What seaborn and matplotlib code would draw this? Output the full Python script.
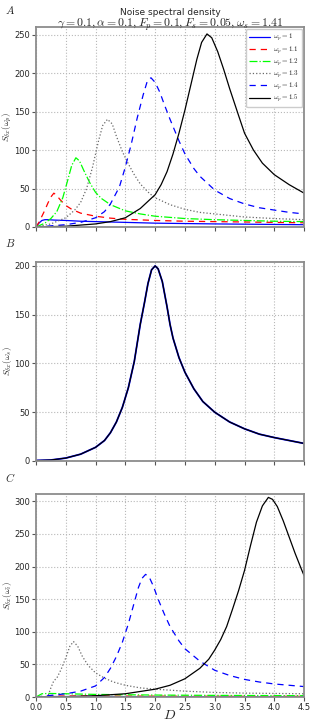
import numpy as np
import pandas as pd
import seaborn as sns
from matplotlib import pyplot as plt

sns.set_style("whitegrid")
plt.rcParams["mathtext.fontset"] = "cm"
plt.rcParams["font.family"] = ["DejaVu Sans"]

omega_p = ["1", "1.1", "1.2", "1.3", "1.4", "1.5"]

# panel A: S(omega_p) vs D
a_d_10 = [0, 0.05, 0.1, 0.15, 0.2, 0.3, 0.5, 0.75, 1.0, 1.5, 2.0, 3.0, 4.5]
a_s_10 = [0, 5, 8.5, 9.5, 9.5, 9, 8.5, 7.5, 7, 6, 5, 4, 3]
a_d_11 = [0, 0.05, 0.1, 0.15, 0.2, 0.25, 0.3, 0.35, 0.4, 0.5, 0.6, 0.75, 1.0, 1.25, 1.5, 2.0, 2.5, 3.0, 3.5, 4.0, 4.5]
a_s_11 = [0, 6, 14, 22, 31, 39, 44, 41, 36, 28, 23, 18, 14, 11.5, 10, 8.5, 7.5, 7, 6.5, 6, 5.5]
a_d_12 = [0, 0.15, 0.25, 0.35, 0.45, 0.53, 0.6, 0.67, 0.73, 0.8, 0.9, 1.0, 1.1, 1.25, 1.5, 1.75, 2.0, 2.5, 3.0, 3.5, 4.0, 4.5]
a_s_12 = [0, 5, 11, 20, 38, 60, 80, 90, 86, 74, 58, 45, 37, 29, 21, 17, 14, 11, 9.5, 8.5, 7.5, 7]
a_d_13 = [0, 0.25, 0.5, 0.65, 0.75, 0.85, 0.95, 1.05, 1.12, 1.2, 1.28, 1.35, 1.45, 1.55, 1.65, 1.75, 1.9, 2.0, 2.25, 2.5, 2.75, 3.0, 3.5, 4.0, 4.5]
a_s_13 = [0, 4, 12, 22, 32, 50, 78, 112, 132, 140, 134, 118, 98, 82, 68, 56, 44, 38, 29, 23, 19, 17, 13, 11, 9.5]
a_d_14 = [0, 0.5, 0.75, 1.0, 1.15, 1.25, 1.4, 1.5, 1.6, 1.7, 1.8, 1.87, 1.93, 2.0, 2.08, 2.15, 2.25, 2.4, 2.5, 2.65, 2.75, 3.0, 3.25, 3.5, 3.75, 4.0, 4.25, 4.5]
a_s_14 = [0, 3, 6, 12, 20, 30, 52, 78, 108, 142, 172, 190, 194, 188, 175, 160, 140, 112, 95, 76, 66, 48, 37, 30, 25, 22, 19, 17]
a_d_15 = [0, 0.5, 1.0, 1.25, 1.5, 1.75, 2.0, 2.1, 2.2, 2.3, 2.4, 2.5, 2.6, 2.7, 2.78, 2.87, 2.95, 3.05, 3.15, 3.25, 3.4, 3.5, 3.65, 3.8, 4.0, 4.25, 4.5]
a_s_15 = [0, 1, 4, 7, 12, 24, 42, 55, 72, 95, 122, 152, 185, 218, 240, 251, 246, 228, 205, 180, 145, 122, 100, 83, 68, 55, 44]

# panel B: S(omega_s) vs D
b_d = [0, 0.25, 0.5, 0.75, 1.0, 1.15, 1.25, 1.35, 1.45, 1.55, 1.65, 1.75, 1.82, 1.88, 1.94, 2.0,
       2.05, 2.12, 2.2, 2.25, 2.3, 2.4, 2.5, 2.65, 2.8, 3.0, 3.25, 3.5, 3.75, 4.0, 4.25, 4.5]
b_s = [0.5, 1, 3, 7, 14, 21, 29, 40, 55, 75, 102, 140, 162, 182, 196, 200,
       197, 184, 158, 140, 126, 106, 91, 74, 61, 50, 40, 33, 27.5, 24, 21, 18]

# panel C: S(omega_i) vs D
c_d_10 = [0, 0.2, 1.0, 2.0, 3.0, 4.5]
c_s_10 = [0, 0.8, 0.7, 0.6, 0.5, 0.5]
c_d_11 = [0, 0.2, 1.0, 2.0, 3.0, 4.5]
c_s_11 = [0, 1.5, 1.5, 1.3, 1.1, 1]
c_d_12 = [0, 0.1, 0.2, 0.5, 1.0, 2.0, 3.0, 4.5]
c_s_12 = [0, 5, 5.5, 5, 4, 3, 2.5, 2]
c_d_13 = [0, 0.2, 0.25, 0.3, 0.35, 0.42, 0.5, 0.57, 0.63, 0.7, 0.78, 0.88, 1.0, 1.15, 1.3, 1.5, 1.75, 2.0, 2.5, 3.0, 3.5, 4.5]
c_s_13 = [0, 1, 14, 25, 29, 42, 60, 78, 85, 78, 62, 48, 37, 29, 23, 18, 14, 12, 9, 7, 6, 5]
c_d_14 = [0, 0.5, 0.75, 1.0, 1.15, 1.25, 1.35, 1.45, 1.55, 1.65, 1.72, 1.78, 1.84, 1.9, 1.97, 2.05,
          2.15, 2.25, 2.4, 2.5, 2.75, 3.0, 3.25, 3.5, 3.75, 4.0, 4.25, 4.5]
c_s_14 = [0, 5, 9, 17, 30, 44, 62, 84, 112, 145, 168, 182, 188, 184, 170, 150,
          128, 108, 86, 74, 55, 41, 33, 27, 23, 20, 18, 16]
c_d_15 = [0, 0.5, 1.0, 1.5, 2.0, 2.25, 2.5, 2.75, 2.9, 3.0, 3.1, 3.2, 3.3, 3.4, 3.5, 3.6, 3.7, 3.8,
          3.9, 3.97, 4.05, 4.15, 4.25, 4.35, 4.45, 4.5]
c_s_15 = [0, 0.5, 2, 5, 12, 18, 28, 44, 58, 72, 88, 108, 135, 163, 194, 232, 268, 293,
          306, 303, 292, 270, 245, 220, 197, 186]

colors = ["blue", "red", "lime", "dimgray", "blue", "black"]
styles = ["-", (0, (5, 4)), "-.", ":", (0, (5, 4)), "-"]

fig = plt.figure(figsize=(3.1, 7.22), dpi=100)
ax_a = fig.add_axes([0.116, 0.6856, 0.865, 0.277])
ax_b = fig.add_axes([0.116, 0.3615, 0.865, 0.2756])
ax_c = fig.add_axes([0.116, 0.0346, 0.865, 0.281])

panel_a = [(a_d_10, a_s_10), (a_d_11, a_s_11), (a_d_12, a_s_12),
           (a_d_13, a_s_13), (a_d_14, a_s_14), (a_d_15, a_s_15)]
panel_c = [(c_d_10, c_s_10), (c_d_11, c_s_11), (c_d_12, c_s_12),
           (c_d_13, c_s_13), (c_d_14, c_s_14), (c_d_15, c_s_15)]

for (d, s), w, c, ls in zip(panel_a, omega_p, colors, styles):
    sns.lineplot(x=d, y=s, ax=ax_a, color=c, linestyle=ls, linewidth=0.9,
                 label="$\\omega_p = " + w + "$", sort=False)
for (d, s), c, ls in zip(panel_c, colors, styles):
    sns.lineplot(x=d, y=s, ax=ax_c, color=c, linestyle=ls, linewidth=0.9, sort=False)
sns.lineplot(x=b_d, y=b_s, ax=ax_b, color="blue", linewidth=1.3, sort=False)
sns.lineplot(x=b_d, y=b_s, ax=ax_b, color="black", linewidth=0.9, sort=False)

ax_a.legend(loc="upper right", fontsize=5, handlelength=3.0, labelspacing=0.1,
            borderpad=0.4, handletextpad=0.5, framealpha=1, edgecolor="#cccccc",
            fancybox=True, borderaxespad=0.3)

ylims = [260, 204, 311]
ylabels = ["$S_{\\delta x}(\\omega_p)$", "$S_{\\delta x}(\\omega_s)$", "$S_{\\delta x}(\\omega_i)$"]
for ax, top, yl in zip([ax_a, ax_b, ax_c], ylims, ylabels):
    ax.set_xlim(0, 4.5)
    ax.set_ylim(0, top)
    ax.set_xticks(np.arange(0, 4.51, 0.5))
    ax.set_yticks(np.arange(0, top, 50))
    ax.grid(True, linestyle=":", color="#b8b8b8", linewidth=0.8)
    for sp in ax.spines.values():
        sp.set_color("#8c8c8c")
        sp.set_linewidth(1.3)
    ax.tick_params(axis="both", which="both", labelsize=6, length=3, width=0.8,
                   color="#555555", bottom=True, left=True, pad=1.5)
    ax.set_ylabel(yl, fontsize=6.5)
    ax.yaxis.set_label_coords(-0.082, 0.5)
    ax.set_xlabel("")

ax_a.set_xticklabels([])
ax_b.set_xticklabels([])
ax_c.set_xticklabels(["%.1f" % v for v in np.arange(0, 4.51, 0.5)])
ax_c.set_xlabel("$D$", fontsize=10)
ax_c.xaxis.set_label_coords(0.5, -0.055)

fig.text(0.548, 0.983, "Noise spectral density", ha="center", va="center", fontsize=6.5)
fig.text(0.548, 0.966, "$\\gamma = 0.1, \\alpha = 0.1, F_p = 0.1, F_s = 0.05, \\omega_s = 1.41$",
         ha="center", va="center", fontsize=8.5)
fig.text(0.016, 0.986, "$A$", fontsize=8, va="center")
fig.text(0.016, 0.663, "$B$", fontsize=8, va="center")
fig.text(0.016, 0.339, "$C$", fontsize=8, va="center")

fig.savefig("out.png", dpi=100)
